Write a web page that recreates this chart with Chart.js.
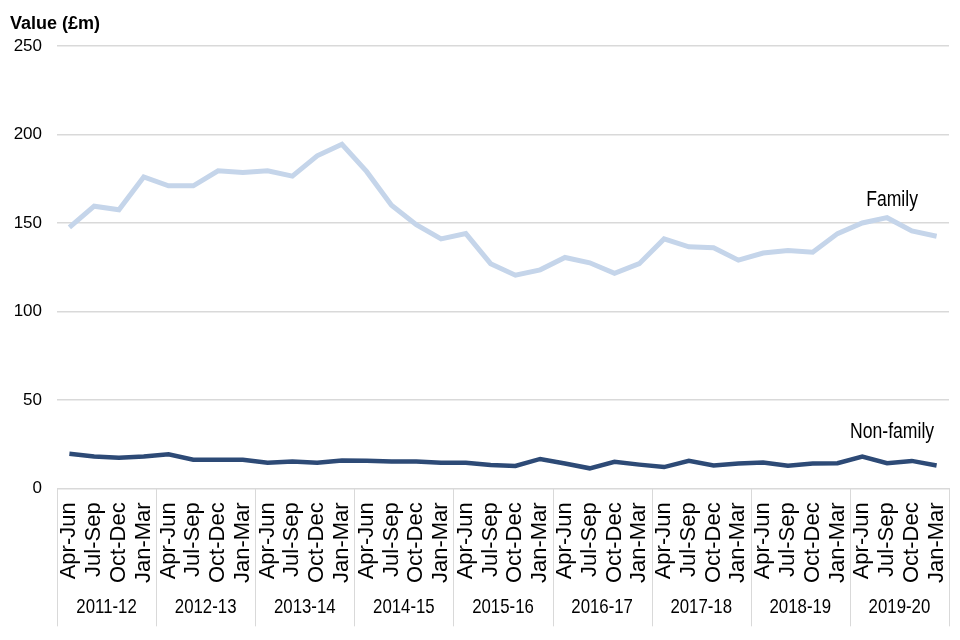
<!DOCTYPE html>
<html>
<head>
<meta charset="utf-8">
<script src="https://cdn.jsdelivr.net/npm/chart.js@4"></script>
<style>
  html, body { margin: 0; padding: 0; background: #fff; }
  #wrap { width: 960px; height: 640px; }
</style>
</head>
<body>
<div id="wrap"><canvas id="myChart"></canvas></div>
<script>
const quarters = ["Apr-Jun", "Jul-Sep", "Oct-Dec", "Jan-Mar"];
const years = ["2011-12", "2012-13", "2013-14", "2014-15", "2015-16", "2016-17", "2017-18", "2018-19", "2019-20"];
const family = [
  147.5, 159.5, 157.5, 176, 171, 171, 179.5, 178.5, 179.5, 176.5, 188, 194.5,
  179, 160, 149, 141, 144, 127, 120.5, 123.5, 130.5, 127.5, 121.5, 127,
  141, 136.5, 136, 129, 133, 134.5, 133.5, 144, 150, 153, 145.5, 142.5
];
const nonFamily = [
  19.5, 18, 17.3, 18, 19.2, 16.2, 16.2, 16.2, 14.5, 15.1, 14.5, 15.7,
  15.6, 15.1, 15.1, 14.5, 14.5, 13.2, 12.6, 16.6, 14, 11.3, 15, 13.4,
  12, 15.5, 12.9, 14, 14.6, 12.8, 14, 14.2, 18, 14.2, 15.5, 12.9
];
const seriesNames = ["Family", "Non-family"];

const labels = years.flatMap(() => quarters);
const sans = "'Liberation Sans', Arial, sans-serif";
const gridGrey = "#d9d9d9";

// narrow-looking text: squeeze a normal face sideways
const narrowText = (ctx, text, x, y, size) => {
  ctx.save();
  ctx.font = size + "px " + sans;
  ctx.translate(x, y);
  ctx.scale(0.8, 1);
  ctx.fillText(text, 0, 0);
  ctx.restore();
};

// year bands under the quarter labels, plus the series names
const groupLabels = {
  id: "groupLabels",
  afterDraw(chart) {
    const { ctx, chartArea, scales } = chart;
    const x = scales.x, y = scales.y;
    const bottom = chartArea.bottom + 138;
    ctx.save();
    ctx.strokeStyle = gridGrey;
    ctx.lineWidth = 1;
    for (let k = 0; k <= years.length; k++) {
      let px;
      if (k === 0) px = chartArea.left;
      else if (k === years.length) px = chartArea.right;
      else px = (x.getPixelForValue(4 * k - 1) + x.getPixelForValue(4 * k)) / 2;
      ctx.beginPath();
      ctx.moveTo(Math.round(px) + 0.5, chartArea.bottom);
      ctx.lineTo(Math.round(px) + 0.5, bottom);
      ctx.stroke();
    }
    ctx.fillStyle = "#000";
    ctx.textAlign = "center";
    ctx.textBaseline = "middle";
    years.forEach((yr, k) => {
      const cx = (x.getPixelForValue(4 * k) + x.getPixelForValue(4 * k + 3)) / 2;
      narrowText(ctx, yr, cx, chartArea.bottom + 119, 21);
    });
    const lx = x.getPixelForValue(33) + 5;
    narrowText(ctx, seriesNames[0], lx, y.getPixelForValue(family[33]) - 18, 22);
    narrowText(ctx, seriesNames[1], lx, y.getPixelForValue(nonFamily[33]) - 31, 22);
    ctx.restore();
  }
};

new Chart(document.getElementById("myChart"), {
  type: "line",
  plugins: [groupLabels],
  data: {
    labels: labels,
    datasets: [
      {
        label: seriesNames[0],
        data: family,
        borderColor: "#c5d5ea",
        borderWidth: 5,
        pointRadius: 0,
        tension: 0,
      },
      {
        label: seriesNames[1],
        data: nonFamily,
        borderColor: "#2d4a76",
        borderWidth: 4.5,
        pointRadius: 0,
        tension: 0,
      },
    ],
  },
  options: {
    responsive: true,
    maintainAspectRatio: false,
    animation: false,
    layout: { padding: { left: 10, right: 11, top: 13, bottom: 43 } },
    plugins: {
      legend: { display: false },
      tooltip: { enabled: false },
      title: {
        display: true,
        text: "Value (£m)",
        align: "start",
        color: "#000",
        font: { family: sans, size: 18, weight: "bold" },
        padding: { top: 0, bottom: 11.5 },
      },
    },
    scales: {
      x: {
        offset: true,
        afterFit(scale) { scale.paddingLeft = 0; scale.paddingRight = 0; },
        grid: { display: false, drawTicks: false },
        border: { display: true, color: gridGrey, width: 1 },
        ticks: {
          autoSkip: false,
          minRotation: 90,
          maxRotation: 90,
          padding: 14,
          color: "#000",
          font: { family: sans, size: 22 },
        },
      },
      y: {
        min: 0,
        max: 250,
        afterFit(scale) { scale.width = 47; },
        grid: { color: gridGrey, lineWidth: 1.5, drawTicks: false },
        border: { display: false },
        ticks: {
          stepSize: 50,
          padding: 15,
          color: "#000",
          font: { family: sans, size: 17 },
        },
      },
    },
  },
});
</script>
</body>
</html>
